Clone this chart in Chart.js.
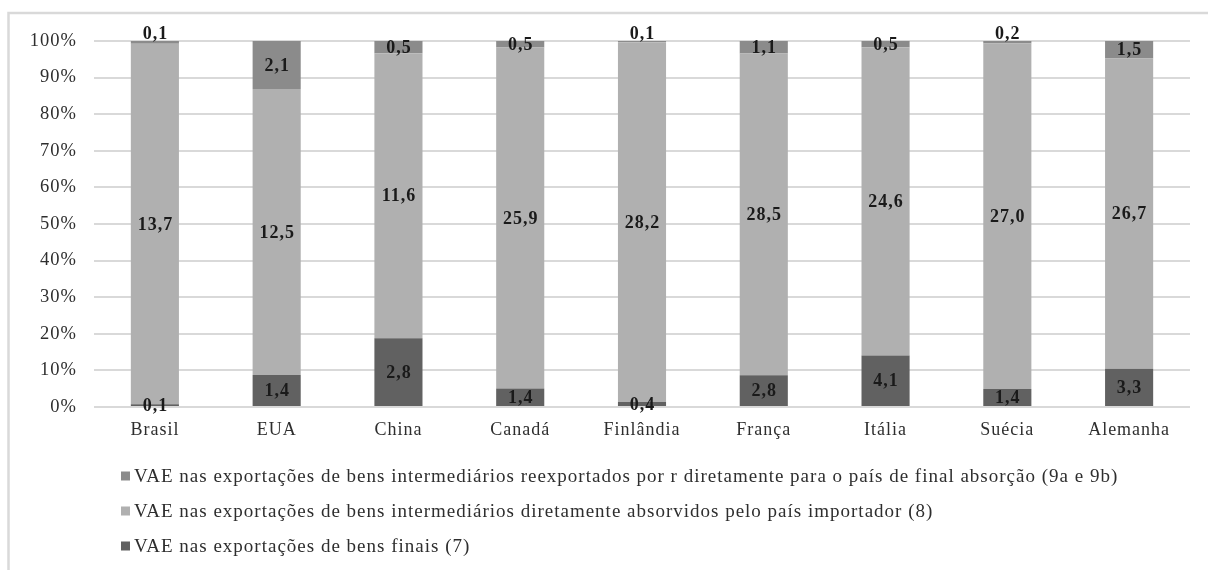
<!DOCTYPE html>
<html>
<head>
<meta charset="utf-8">
<script src="https://cdn.jsdelivr.net/npm/chart.js@4.4.1/dist/chart.umd.min.js"></script>
<style>
  html, body { margin: 0; padding: 0; background: #ffffff; overflow: hidden; }
  #wrap { width: 1208px; height: 570px; position: relative; }
</style>
</head>
<body>
<div id="wrap"><canvas id="chart" width="1208" height="570"></canvas></div>
<script>
// Countries on the category axis
const countries = ['Brasil', 'EUA', 'China', 'Canadá', 'Finlândia', 'França', 'Itália', 'Suécia', 'Alemanha'];

// VAE components (values shown on the bars)
const finalGoods = [0.1, 1.4, 2.8, 1.4, 0.4, 2.8, 4.1, 1.4, 3.3];
const absorbedIntermediates = [13.7, 12.5, 11.6, 25.9, 28.2, 28.5, 24.6, 27.0, 26.7];
const reexportedIntermediates = [0.1, 2.1, 0.5, 0.5, 0.1, 1.1, 0.5, 0.2, 1.5];

// Series names, bottom to top of each stack
const seriesNames = [
  'VAE nas exportações de bens finais (7)',
  'VAE nas exportações de bens intermediários diretamente absorvidos pelo país importador (8)',
  'VAE nas exportações de bens intermediários reexportados por r diretamente para o país de final absorção (9a e 9b)'
];

// Percentage tick labels on the value axis
const percentTicks = ['0%', '10%', '20%', '30%', '40%', '50%', '60%', '70%', '80%', '90%', '100%'];

const seriesColors = ['#616161', '#b0b0b0', '#8b8b8b'];
const serif = '"Liberation Serif", "Times New Roman", serif';
const textColor = '#2e2e2e';

const seriesValues = [finalGoods, absorbedIntermediates, reexportedIntermediates];
const totals = countries.map((_, i) => seriesValues.reduce((s, arr) => s + arr[i], 0));
const toShare = arr => arr.map((v, i) => v / totals[i] * 100);

const datasets = seriesValues.map((arr, k) => ({
  label: seriesNames[k],
  data: toShare(arr),
  values: arr,
  backgroundColor: seriesColors[k],
  borderWidth: 0,
  barPercentage: 0.395,
  categoryPercentage: 1.0
}));

const fmt = v => v.toFixed(1).replace('.', ',');

// Light frame on the left and top of the chart area
const framePlugin = {
  id: 'frame',
  beforeDraw(chart) {
    const ctx = chart.ctx;
    ctx.save();
    ctx.fillStyle = '#ffffff';
    ctx.fillRect(0, 0, chart.width, chart.height);
    ctx.strokeStyle = '#d9d9d9';
    ctx.lineWidth = 2.5;
    ctx.beginPath();
    ctx.moveTo(8.5, chart.height + 2);
    ctx.lineTo(8.5, 13);
    ctx.lineTo(chart.width + 2, 13);
    ctx.stroke();
    ctx.restore();
    ctx.letterSpacing = '1px';
  }
};

// Value labels in the middle of each segment
const valueLabels = {
  id: 'valueLabels',
  afterDatasetsDraw(chart) {
    const ctx = chart.ctx;
    const last = chart.data.datasets.length - 1;
    ctx.save();
    ctx.letterSpacing = '1px';
    ctx.font = 'bold 18px ' + serif;
    ctx.fillStyle = '#1a1a1a';
    ctx.textAlign = 'center';
    ctx.textBaseline = 'middle';
    chart.data.datasets.forEach((ds, k) => {
      const meta = chart.getDatasetMeta(k);
      meta.data.forEach((el, i) => {
        const h = Math.abs(el.base - el.y);
        let cy = (el.y + el.base) / 2;
        if (k === last && h < 4) cy = el.y - 8;
        ctx.fillText(fmt(ds.values[i]), el.x + 0.5, cy + 1);
      });
    });
    ctx.restore();
  }
};

// Legend stacked in rows under the plot, top series first
const rowsLegend = {
  id: 'rowsLegend',
  afterDraw(chart) {
    const ctx = chart.ctx;
    const rows = [476, 511, 546];
    const order = [2, 1, 0];
    ctx.save();
    ctx.letterSpacing = '1px';
    ctx.font = '19px ' + serif;
    ctx.textBaseline = 'middle';
    ctx.textAlign = 'left';
    order.forEach((k, r) => {
      const ds = chart.data.datasets[k];
      ctx.fillStyle = ds.backgroundColor;
      ctx.fillRect(121, rows[r] - 4.5, 9, 9);
      ctx.fillStyle = textColor;
      ctx.fillText(ds.label, 134, rows[r] + 1);
    });
    ctx.restore();
  }
};

new Chart(document.getElementById('chart'), {
  type: 'bar',
  data: { labels: countries, datasets },
  options: {
    responsive: false,
    devicePixelRatio: 1,
    animation: false,
    layout: { padding: { left: 0, right: 18, top: 41, bottom: 0 } },
    plugins: {
      legend: { display: false },
      tooltip: { enabled: false }
    },
    scales: {
      x: {
        stacked: true,
        grid: { display: false, drawTicks: false },
        border: { display: false },
        ticks: { color: textColor, font: { family: serif, size: 18 }, padding: 12, maxRotation: 0 },
        afterFit(scale) { scale.height = 163; }
      },
      y: {
        stacked: true,
        min: 0,
        max: 100,
        grid: { color: '#d9d9d9', lineWidth: 2, drawTicks: false },
        border: { display: false },
        ticks: {
          stepSize: 10,
          color: textColor,
          font: { family: serif, size: 18.5 },
          padding: 17,
          callback: (v) => percentTicks[Math.round(v / 10)]
        },
        afterFit(scale) { scale.width = 94; }
      }
    }
  },
  plugins: [framePlugin, valueLabels, rowsLegend]
});
</script>
</body>
</html>
